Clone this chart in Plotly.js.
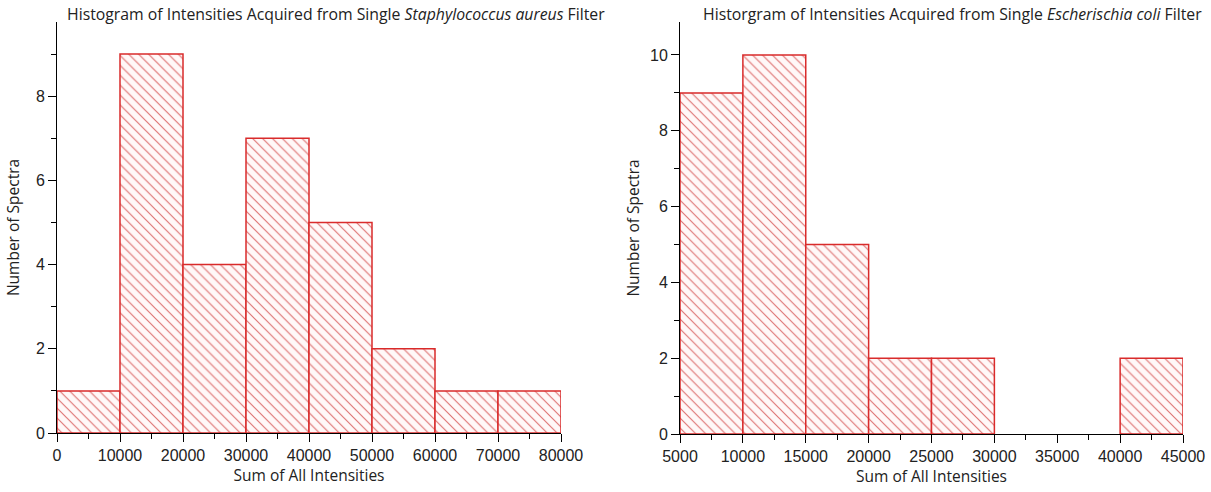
<!DOCTYPE html>
<html>
<head>
<meta charset="utf-8">
<script src="https://cdn.plot.ly/plotly-3.0.1.min.js"></script>
<style>
  html, body { margin: 0; padding: 0; background: #fff; }
  #chart { width: 1211px; height: 492px; }
</style>
</head>
<body>
<div id="chart"></div>
<script>
// S. aureus: start of each 10000-wide bin and its count
const saBinStart = [0, 10000, 20000, 30000, 40000, 50000, 60000, 70000];
const saCounts   = [1, 9, 4, 7, 5, 2, 1, 1];
const saBinWidth = 10000;

// E. coli: start of each 5000-wide bin and its count
const ecBinStart = [5000, 10000, 15000, 20000, 25000, 40000];
const ecCounts   = [9, 10, 5, 2, 2, 2];
const ecBinWidth = 5000;

const saTicks = [0, 10000, 20000, 30000, 40000, 50000, 60000, 70000, 80000];
const ecTicks = [5000, 10000, 15000, 20000, 25000, 30000, 35000, 40000, 45000];

const outline = '#d92b2b';
const hatch = '#de7272';

function histTrace(starts, counts, w, xa, ya) {
  return {
    type: 'bar',
    x: starts.map(s => s + w / 2),
    y: counts,
    width: starts.map(() => w),
    xaxis: xa, yaxis: ya,
    marker: {
      color: '#fff8f8',
      line: { color: outline, width: 1.5 },
      pattern: {
        shape: '\\', fillmode: 'overlay',
        fgcolor: starts.map(() => hatch), fgopacity: 1,
        size: 7, solidity: 0.16
      }
    },
    hoverinfo: 'x+y',
    showlegend: false
  };
}

const tickFont = { family: 'Liberation Sans, Arial, sans-serif', size: 16, color: '#222' };
const titleFont = { family: 'Open Sans, sans-serif', size: 15.5, color: '#222' };
const headFont = { family: 'Open Sans, sans-serif', size: 15.8, color: '#222' };

function axisCommon() {
  return {
    showline: true, linecolor: '#000', linewidth: 1,
    ticks: 'outside', ticklen: 8, tickwidth: 1, tickcolor: '#000',
    showgrid: false, zeroline: false, tickfont: tickFont
  };
}
function minorTicks(dtick, tick0) {
  return { ticks: 'outside', ticklen: 5, tickwidth: 1, tickcolor: '#000', dtick: dtick, tick0: tick0, showgrid: false };
}

const layout = {
  width: 1211, height: 492,
  margin: { l: 0, r: 0, t: 0, b: 0 },
  paper_bgcolor: '#fff', plot_bgcolor: '#fff',
  bargap: 0,
  xaxis: Object.assign(axisCommon(), {
    domain: [57 / 1211, 561 / 1211], range: [0, 80000],
    tickvals: saTicks, ticktext: saTicks.map(String),
    minor: minorTicks(5000, 0),
    anchor: 'y',
    title: { text: 'Sum of All Intensities', font: titleFont, standoff: 6 }
  }),
  yaxis: Object.assign(axisCommon(), {
    domain: [(492 - 433) / 492, (492 - 22) / 492], range: [0, 9.76],
    tickvals: [0, 2, 4, 6, 8],
    minor: minorTicks(1, 0),
    anchor: 'x',
    title: { text: 'Number of Spectra', font: titleFont, standoff: 12 }
  }),
  xaxis2: Object.assign(axisCommon(), {
    domain: [680 / 1211, 1183 / 1211], range: [5000, 45000],
    tickvals: ecTicks, ticktext: ecTicks.map(String),
    minor: minorTicks(2500, 0),
    anchor: 'y2',
    title: { text: 'Sum of All Intensities', font: titleFont, standoff: 6 }
  }),
  yaxis2: Object.assign(axisCommon(), {
    domain: [(492 - 434) / 492, (492 - 22) / 492], range: [0, 10.87],
    tickvals: [0, 2, 4, 6, 8, 10],
    minor: minorTicks(1, 0),
    anchor: 'x2',
    title: { text: 'Number of Spectra', font: titleFont, standoff: 6 }
  }),
  annotations: [
    {
      text: 'Histogram of Intensities Acquired from Single <i>Staphylococcus aureus</i> Filter',
      xref: 'paper', yref: 'paper', x: 336 / 1211, y: (492 - 14) / 492,
      xanchor: 'center', yanchor: 'middle', showarrow: false, font: headFont
    },
    {
      text: 'Historgram of Intensities Acquired from Single <i>Escherischia coli</i> Filter',
      xref: 'paper', yref: 'paper', x: 952 / 1211, y: (492 - 14) / 492,
      xanchor: 'center', yanchor: 'middle', showarrow: false, font: headFont
    }
  ]
};

const data = [
  histTrace(saBinStart, saCounts, saBinWidth, 'x', 'y'),
  histTrace(ecBinStart, ecCounts, ecBinWidth, 'x2', 'y2')
];

Plotly.newPlot('chart', data, layout, { displayModeBar: false, staticPlot: true });
</script>
</body>
</html>
